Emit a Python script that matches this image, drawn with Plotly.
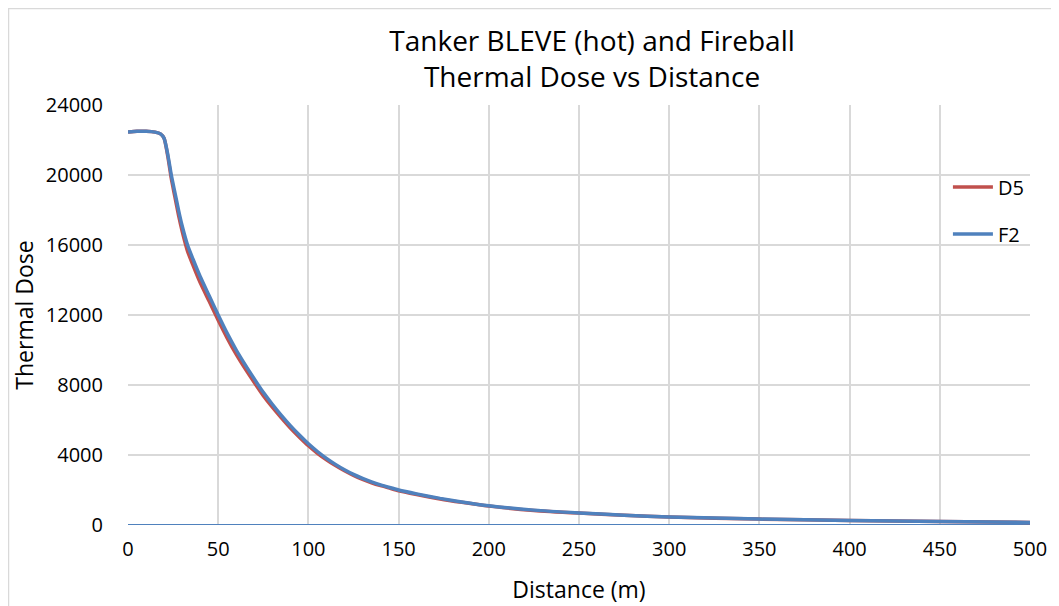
import plotly.graph_objects as go

distance = [0, 5, 10, 15, 18, 20, 22, 24, 26, 28, 30, 33, 36, 40, 45, 50, 55, 60, 65, 70, 75, 80, 85, 90,
            95, 100, 105, 110, 115, 120, 125, 130, 135, 140, 145, 150, 160, 173, 185, 200, 225, 250, 275, 300,
            350, 400, 450, 500]
f2_dose = [22450, 22500, 22500, 22450, 22350, 22100, 21200, 20000, 19000, 18000, 17100, 16000, 15200, 14200,
           13100, 12000, 10950, 10000, 9150, 8350, 7580, 6900, 6270, 5680, 5140, 4640, 4200, 3810, 3465,
           3160, 2890, 2660, 2460, 2290, 2140, 2000, 1780, 1520, 1320, 1100, 850, 690, 560, 460, 340, 260,
           200, 145]
d5_dose = [22450, 22500, 22500, 22450, 22350, 22100, 21100, 19800, 18750, 17700, 16800, 15650, 14850, 13850,
           12780, 11700, 10680, 9750, 8920, 8140, 7390, 6730, 6120, 5540, 5020, 4530, 4100, 3730, 3395,
           3100, 2835, 2610, 2415, 2250, 2105, 1960, 1745, 1490, 1295, 1080, 835, 680, 552, 454, 336, 257,
           198, 143]
zero_x = [0, 500]
zero_y = [0, 0]

RED = "#C0504D"
BLUE = "#4F81BD"
FONT = "Open Sans"

fig = go.Figure()
fig.add_trace(go.Scatter(x=zero_x, y=zero_y, mode="lines", line=dict(color=BLUE, width=2),
                         showlegend=False, hoverinfo="skip"))
fig.add_trace(go.Scatter(x=distance, y=d5_dose, mode="lines", name="D5",
                         line=dict(color=RED, width=3.5, shape="spline", smoothing=0.6), legendgroup="a"))
fig.add_trace(go.Scatter(x=distance, y=f2_dose, mode="lines", name="F2",
                         line=dict(color=BLUE, width=3.5, shape="spline", smoothing=0.6), legendgroup="b"))

fig.update_layout(
    width=1051, height=598,
    margin=dict(l=120, r=29, t=97, b=81),
    paper_bgcolor="white", plot_bgcolor="white",
    font=dict(family=FONT, color="#000000", size=20),
    title=dict(text="Tanker BLEVE (hot) and Fireball<br>Thermal Dose vs Distance",
               x=0.5557, xanchor="center", y=0.928, yanchor="middle",
               font=dict(family=FONT, size=28, color="#000000")),
    legend=dict(x=0.909, y=0.851, xanchor="left", yanchor="top", bgcolor="rgba(0,0,0,0)",
                font=dict(family=FONT, size=20), tracegroupgap=18, itemwidth=40),
    showlegend=True,
    shapes=[dict(type="rect", xref="paper", yref="paper", x0=-0.1325, x1=1.1, y0=-0.3, y1=1.2298,
                 line=dict(color="#D9D9D9", width=1.5), fillcolor="rgba(0,0,0,0)", layer="below")],
)
fig.update_xaxes(range=[0, 500], dtick=50, tick0=0, showgrid=True, gridcolor="#D9D9D9", gridwidth=1.5,
                 zeroline=False, showline=False, ticks="", ticklabelstandoff=10, automargin=False,
                 title=dict(text="Distance (m)", font=dict(family=FONT, size=23), standoff=20),
                 tickfont=dict(family=FONT, size=20))
fig.update_yaxes(range=[0, 24000], dtick=4000, tick0=0, showgrid=True, gridcolor="#D9D9D9", gridwidth=1.5,
                 zeroline=False, showline=False, ticks="", tickformat="d", ticklabelstandoff=24,
                 automargin=False,
                 title=dict(text="Thermal Dose", font=dict(family=FONT, size=23), standoff=10),
                 tickfont=dict(family=FONT, size=20))

fig.write_html("out.html")
